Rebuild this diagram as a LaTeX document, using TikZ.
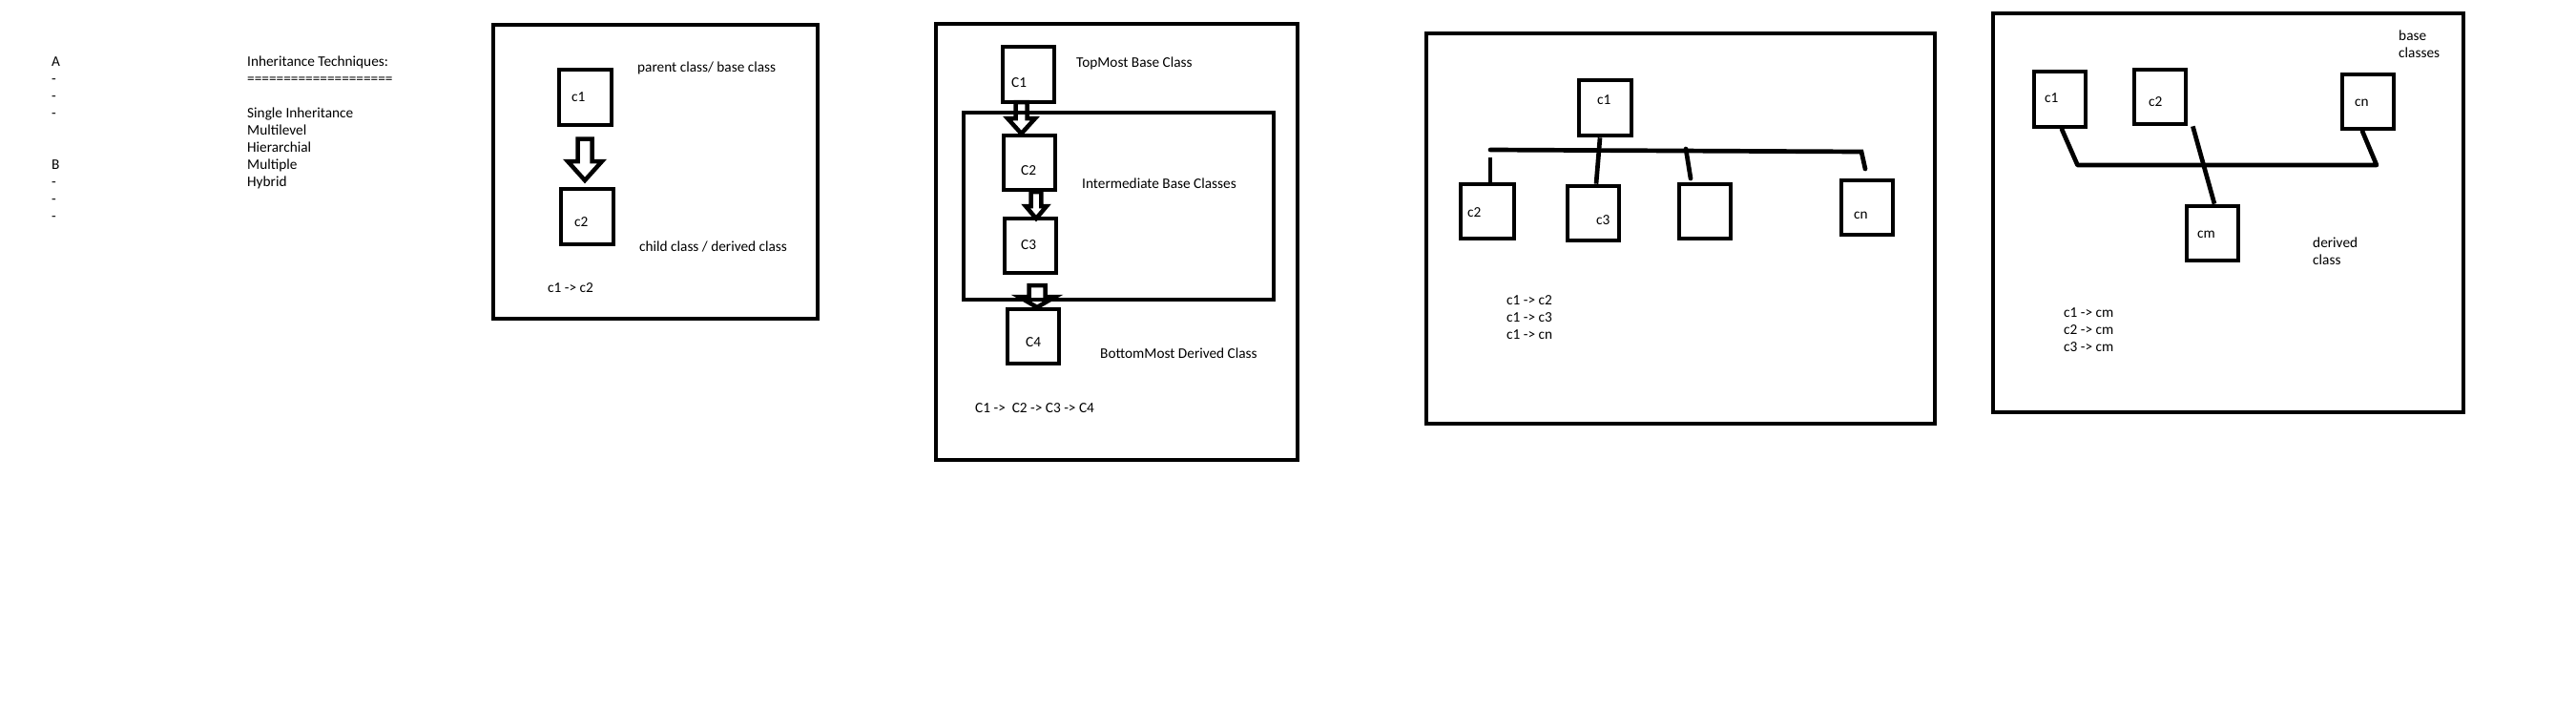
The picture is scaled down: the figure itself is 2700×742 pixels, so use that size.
\documentclass[tikz,border=0pt]{standalone}
\usepackage{fontspec}
\setmainfont{Carlito}
\usetikzlibrary{calc}
\newcommand\clsbox[6]{\node[#1, minimum width={(#5-#3)*1pt}, minimum height={(#6-#4)*1pt}] (#2) at ({(#3+#5)/2},{(#4+#6)/2}) {};}
\newcommand\hollowarrow[6]{\draw[hollow] ({#1-#2},#4) -- ({#1-#2},#5) -- ({#1-#3},#5) -- (#1,#6) -- ({#1+#3},#5) -- ({#1+#2},#5) -- ({#1+#2},#4) -- cycle;}
\begin{document}
\begin{tikzpicture}[x=1pt,y=-1pt,
  font=\fontsize{15.3}{18}\selectfont,
  frame/.style={draw, line width=4.7pt, rectangle, inner sep=0pt, line join=miter},
  cls/.style={draw, line width=4.7pt, rectangle, inner sep=0pt, line join=miter},
  txt/.style={anchor=base west, inner sep=0pt, text=black},
  link/.style={line width=4.7pt, line cap=round},
  hollow/.style={draw, line width=4.5pt, line join=miter}]
\useasboundingbox (0,0) rectangle (2700,742);
\fill[white] (0,0) rectangle (2700,742);

% ---------- left text block ----------
\node[txt] (la)  at (54,69)  {A};
\node[txt] (la1) at (54,87)  {-};
\node[txt] (la2) at (54,105) {-};
\node[txt] (la3) at (54,123) {-};
\node[txt] (lb)  at (54,177) {B};
\node[txt] (lb1) at (54,195) {-};
\node[txt] (lb2) at (54,213) {-};
\node[txt] (lb3) at (54,231) {-};
\node[txt] (r0) at (259,69)  {Inheritance Techniques:};
\node[txt] (r1) at (259,87)  {====================};
\node[txt] (r3) at (259,123) {Single Inheritance};
\node[txt] (r4) at (259,141) {Multilevel};
\node[txt] (r5) at (259,159) {Hierarchial};
\node[txt] (r6) at (259,177) {Multiple};
\node[txt] (r7) at (259,195) {Hybrid};

% ---------- single inheritance ----------
\clsbox{frame}{fa}{517}{26}{857}{334}
\clsbox{cls}{sa1}{586}{73}{641}{131}
\clsbox{cls}{sa2}{588}{198}{643}{256}
\hollowarrow{613}{7.5}{18}{145.5}{169}{189}
\node[txt] (sa1t) at (599,106.5) {c1};
\node[txt] (sa2t) at (602,237.5) {c2};
\node[txt] (sap) at (668,75) {parent class/ base class};
\node[txt] (sac) at (670,263) {child class / derived class};
\node[txt] (sar) at (574,306.5) {c1 -> c2};

% ---------- multilevel ----------
\clsbox{frame}{fb}{981}{25}{1360}{482}
\clsbox{frame}{fbi}{1010}{118}{1335}{314}
\clsbox{cls}{mb1}{1051}{49}{1105}{107}
\clsbox{cls}{mb2}{1052}{142}{1106}{199}
\clsbox{cls}{mb3}{1053}{229}{1107}{286}
\clsbox{cls}{mb4}{1056}{324}{1110}{381}
\hollowarrow{1070.5}{6}{14.5}{107}{124}{140}
\hollowarrow{1086}{5.3}{11}{201}{216}{229}
\hollowarrow{1087}{8.5}{19}{299}{311}{322}
\node[txt] (mb1t) at (1060,91.5) {C1};
\node[txt] (mb2t) at (1070,183.5) {C2};
\node[txt] (mb3t) at (1070,261.5) {C3};
\node[txt] (mb4t) at (1075,363.5) {C4};
\node[txt] (mbtop) at (1128,70) {TopMost Base Class};
\node[txt] (mbmid) at (1134,197) {Intermediate Base Classes};
\node[txt] (mbbot) at (1153,375) {BottomMost Derived Class};
\node[txt] (mbr) at (1022,432.5) {C1 ->\ \ C2 -> C3 -> C4};

% ---------- hierarchical ----------
\clsbox{frame}{fc}{1495}{35}{2028}{444}
\clsbox{cls}{hc1}{1655}{84}{1710}{142}
\clsbox{cls}{hc2}{1531}{193}{1587}{250}
\clsbox{cls}{hc3}{1643}{195}{1697}{252}
\clsbox{cls}{hc4}{1760}{193}{1814}{250}
\clsbox{cls}{hcn}{1930}{189}{1984}{246}
\coordinate (busL) at (1562,157);
\coordinate (busR) at (1951,159);
\coordinate (busE) at (1955,177);
\coordinate (drop2) at (1562,165);
\coordinate (drop4) at (1767,156);
\coordinate (end4) at (1772,187);
\draw[link] (busL) -- (busR) -- (busE);
\draw[link, line cap=butt] (drop2) -- (drop2 |- hc2.north);
\draw[link, line cap=butt] ($(hc1.south)+(-5.5,0)$) -- ($(hc3.north)+(3,0)$);
\draw[link] (drop4) -- (end4);
\node[txt] (hc1t) at (1674,109.5) {c1};
\node[txt] (hc2t) at (1538,227.5) {c2};
\node[txt] (hc3t) at (1673,235.5) {c3};
\node[txt] (hcnt) at (1943,229.5) {cn};
\node[txt] (hr1) at (1579,319.5) {c1 -> c2};
\node[txt] (hr2) at (1579,337.5) {c1 -> c3};
\node[txt] (hr3) at (1579,355.5) {c1 -> cn};

% ---------- multiple ----------
\clsbox{frame}{fd}{2089}{14}{2582}{432}
\clsbox{cls}{pc1}{2132}{75}{2186}{133}
\clsbox{cls}{pc2}{2237}{73}{2291}{130}
\clsbox{cls}{pcn}{2455}{78}{2509}{135}
\clsbox{cls}{pcm}{2292}{216}{2346}{273}
\coordinate (jl) at (2177.5,173);
\coordinate (jr) at (2491,173);
\draw[link, line join=round] ($(pc1.south)+(2,0)$) -- (jl) -- (jr) -- ($(pcn.south)+(-6,0)$);
\draw[link, line cap=butt] ($(pc2.south east)+(5,0)$) -- ($(pcm.north)+(2,0)$);
\node[txt] (pc1t) at (2143,107.5) {c1};
\node[txt] (pc2t) at (2252,111.5) {c2};
\node[txt] (pcnt) at (2468,111.5) {cn};
\node[txt] (pcmt) at (2303,249.5) {cm};
\node[txt] (pbase1) at (2514,42.5) {base};
\node[txt] (pbase2) at (2514,60.5) {classes};
\node[txt] (pder1) at (2424,259.5) {derived};
\node[txt] (pder2) at (2424,277.5) {class};
\node[txt] (pr1) at (2163,332.5) {c1 -> cm};
\node[txt] (pr2) at (2163,350.5) {c2 -> cm};
\node[txt] (pr3) at (2163,368.5) {c3 -> cm};
\end{tikzpicture}
\end{document}
